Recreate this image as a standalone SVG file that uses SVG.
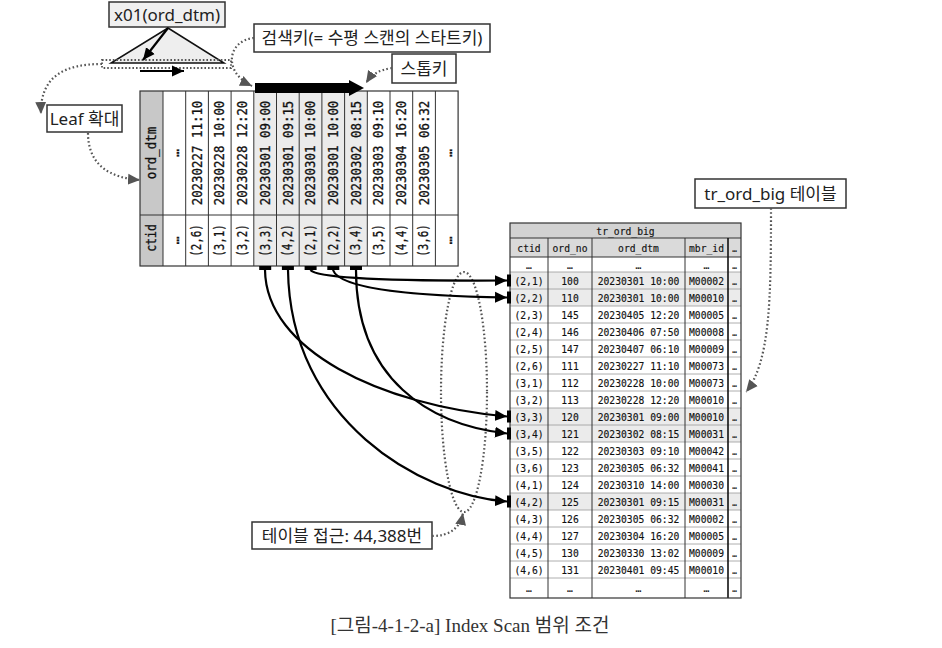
<svg xmlns="http://www.w3.org/2000/svg" width="942" height="648" viewBox="0 0 942 648">
<style>
.lbl{font-family:"Noto Sans","Noto Sans CJK KR",sans-serif;font-size:17px;fill:#222}
.box{fill:#fff;stroke:#333;stroke-width:1.5}
.m{font-family:"DejaVu Sans Mono","Liberation Mono",monospace;font-size:13.5px;fill:#111;stroke:#111;stroke-width:0.3}
.t{font-family:"DejaVu Sans Mono","Liberation Mono",monospace;font-size:11px;fill:#111;text-anchor:middle;dominant-baseline:central;stroke:#111;stroke-width:0.15}
.dot{fill:none;stroke:#555;stroke-width:2.2;stroke-dasharray:1.6 2.4}
.ar{fill:none;stroke:#000;stroke-width:2.2}
.cl{stroke:#333;stroke-width:1}
.rl{stroke:#999;stroke-width:0.8}
.cap{font-family:"Liberation Serif","Noto Sans CJK KR",serif;font-size:19px;fill:#333}
</style>
<defs>
<marker id="ba" markerUnits="userSpaceOnUse" markerWidth="12" markerHeight="12" refX="11" refY="5" orient="auto" viewBox="0 0 11 10"><path d="M0,0 L11,5 L0,10 z" fill="#000"/></marker>
<marker id="ga" markerUnits="userSpaceOnUse" markerWidth="12" markerHeight="12" refX="11" refY="5" orient="auto" viewBox="0 0 11 10"><path d="M0,0 L11,5 L0,10 z" fill="#555"/></marker>
</defs>
<rect width="942" height="648" fill="#fff"/>

<g id="x01">
<rect x="109" y="2" width="116" height="25" fill="#f0f0f0" stroke="#333" stroke-width="1.5"/>
<text class="lbl" x="167" y="20.5" text-anchor="middle">x01(ord_dtm)</text>
<polygon points="168,28 111,63 224,63" fill="#eee" stroke="#111" stroke-width="1.5"/>
<rect x="102" y="60" width="129" height="8" fill="none" stroke="#555" stroke-width="1.8" stroke-dasharray="1.6 2"/>
<path class="ar" d="M168,28 L143,60" marker-end="url(#ba)"/>
<path class="ar" d="M140,71 L184,71" marker-end="url(#ba)"/>
</g>

<g id="leaf">
<rect class="box" x="47" y="105" width="75" height="27"/>
<text class="lbl" x="84.5" y="124.5" text-anchor="middle">Leaf 확대</text>
</g>

<g id="searchkey">
<rect class="box" x="254" y="24" width="236" height="28"/>
<text class="lbl" x="372" y="44" text-anchor="middle">검색키(= 수평 스캔의 스타트키)</text>
</g>

<g id="stopkey">
<rect class="box" x="392" y="54" width="64" height="29"/>
<text class="lbl" x="424" y="74.5" text-anchor="middle">스톱키</text>
</g>

<g id="index">
<rect x="140" y="91" width="23" height="175" fill="#c8c8c8"/>
<rect x="253.8" y="91" width="113.5" height="175" fill="#ebebeb"/>
<rect x="140" y="91" width="318.1" height="175" fill="none" stroke="#333" stroke-width="1.2"/>
<line class="cl" x1="140" y1="215" x2="458.1" y2="215"/>
<g class="cl">
<line x1="163" y1="91" x2="163" y2="266"/>
<line x1="185.7" y1="91" x2="185.7" y2="266"/>
<line x1="208.4" y1="91" x2="208.4" y2="266"/>
<line x1="231.1" y1="91" x2="231.1" y2="266"/>
<line x1="253.8" y1="91" x2="253.8" y2="266"/>
<line x1="276.5" y1="91" x2="276.5" y2="266"/>
<line x1="299.2" y1="91" x2="299.2" y2="266"/>
<line x1="321.9" y1="91" x2="321.9" y2="266"/>
<line x1="344.6" y1="91" x2="344.6" y2="266"/>
<line x1="367.3" y1="91" x2="367.3" y2="266"/>
<line x1="390" y1="91" x2="390" y2="266"/>
<line x1="412.7" y1="91" x2="412.7" y2="266"/>
<line x1="435.4" y1="91" x2="435.4" y2="266"/>
</g>
<g class="m" text-anchor="middle" dominant-baseline="central">
<text transform="translate(151.5,153) rotate(-90) scale(0.92,1)">ord_dtm</text>
<text transform="translate(151.5,238) rotate(-90) scale(0.85,1)">ctid</text>
<text transform="translate(174.35,153) rotate(-90)">…</text>
<text transform="translate(174.35,240.5) rotate(-90)">…</text>
<text transform="translate(446.75,153) rotate(-90)">…</text>
<text transform="translate(446.75,240.5) rotate(-90)">…</text>
</g>
<g class="m" text-anchor="middle" dominant-baseline="central">
<text transform="translate(197.05,153) rotate(-90) scale(0.92,1)">20230227 11:10</text>
<text transform="translate(219.75,153) rotate(-90) scale(0.92,1)">20230228 10:00</text>
<text transform="translate(242.45,153) rotate(-90) scale(0.92,1)">20230228 12:20</text>
<text transform="translate(265.15,153) rotate(-90) scale(0.92,1)">20230301 09:00</text>
<text transform="translate(287.85,153) rotate(-90) scale(0.92,1)">20230301 09:15</text>
<text transform="translate(310.55,153) rotate(-90) scale(0.92,1)">20230301 10:00</text>
<text transform="translate(333.25,153) rotate(-90) scale(0.92,1)">20230301 10:00</text>
<text transform="translate(355.95,153) rotate(-90) scale(0.92,1)">20230302 08:15</text>
<text transform="translate(378.65,153) rotate(-90) scale(0.92,1)">20230303 09:10</text>
<text transform="translate(401.35,153) rotate(-90) scale(0.92,1)">20230304 16:20</text>
<text transform="translate(424.05,153) rotate(-90) scale(0.92,1)">20230305 06:32</text>
<text transform="translate(197.05,240.5) rotate(-90) scale(0.8,1)">(2,6)</text>
<text transform="translate(219.75,240.5) rotate(-90) scale(0.8,1)">(3,1)</text>
<text transform="translate(242.45,240.5) rotate(-90) scale(0.8,1)">(3,2)</text>
<text transform="translate(265.15,240.5) rotate(-90) scale(0.8,1)">(3,3)</text>
<text transform="translate(287.85,240.5) rotate(-90) scale(0.8,1)">(4,2)</text>
<text transform="translate(310.55,240.5) rotate(-90) scale(0.8,1)">(2,1)</text>
<text transform="translate(333.25,240.5) rotate(-90) scale(0.8,1)">(2,2)</text>
<text transform="translate(355.95,240.5) rotate(-90) scale(0.8,1)">(3,4)</text>
<text transform="translate(378.65,240.5) rotate(-90) scale(0.8,1)">(3,5)</text>
<text transform="translate(401.35,240.5) rotate(-90) scale(0.8,1)">(4,4)</text>
<text transform="translate(424.05,240.5) rotate(-90) scale(0.8,1)">(3,6)</text>
</g>
<g fill="#000">
<rect x="259.2" y="266" width="12" height="4"/>
<rect x="281.9" y="266" width="12" height="4"/>
<rect x="304.6" y="266" width="12" height="4"/>
<rect x="327.3" y="266" width="12" height="4"/>
<rect x="350" y="266" width="12" height="4"/>
</g>
</g>

<g id="scanbar">
<polygon points="255,83 349,83 349,80 364,88 349,96 349,93 255,93" fill="#000"/>
</g>

<g id="tr_ord_big">
<rect x="510" y="223" width="231" height="15" fill="#d2d2d2"/>
<rect x="510" y="238" width="231" height="19" fill="#dadada"/>
<g fill="#ebebeb">
<rect x="510" y="272" width="231" height="34"/>
<rect x="510" y="408" width="231" height="34"/>
<rect x="510" y="493" width="231" height="17"/>
</g>
<g class="rl">
<line x1="510" y1="272" x2="741" y2="272"/>
<line x1="510" y1="289" x2="741" y2="289"/>
<line x1="510" y1="306" x2="741" y2="306"/>
<line x1="510" y1="323" x2="741" y2="323"/>
<line x1="510" y1="340" x2="741" y2="340"/>
<line x1="510" y1="357" x2="741" y2="357"/>
<line x1="510" y1="374" x2="741" y2="374"/>
<line x1="510" y1="391" x2="741" y2="391"/>
<line x1="510" y1="408" x2="741" y2="408"/>
<line x1="510" y1="425" x2="741" y2="425"/>
<line x1="510" y1="442" x2="741" y2="442"/>
<line x1="510" y1="459" x2="741" y2="459"/>
<line x1="510" y1="476" x2="741" y2="476"/>
<line x1="510" y1="493" x2="741" y2="493"/>
<line x1="510" y1="510" x2="741" y2="510"/>
<line x1="510" y1="527" x2="741" y2="527"/>
<line x1="510" y1="544" x2="741" y2="544"/>
<line x1="510" y1="561" x2="741" y2="561"/>
<line x1="510" y1="578" x2="741" y2="578"/>
</g>
<line class="cl" x1="510" y1="238" x2="741" y2="238"/>
<line class="cl" x1="510" y1="257" x2="741" y2="257"/>
<g class="cl">
<line x1="548" y1="238" x2="548" y2="598"/>
<line x1="592" y1="238" x2="592" y2="598"/>
<line x1="685" y1="238" x2="685" y2="598"/>
</g>
<line x1="728" y1="238" x2="728" y2="598" stroke="#111" stroke-width="1.6"/>
<rect x="510" y="223" width="231" height="375" fill="none" stroke="#333" stroke-width="1.2"/>
<g class="t" transform="translate(625.5,0) scale(0.88,1)"><text x="0" y="230.5">tr_ord_big</text></g>
<g class="t" transform="translate(529,0) scale(0.88,1)">
<text y="247.5">ctid</text><text y="264.5">…</text>
<text y="280.5">(2,1)</text><text y="297.5">(2,2)</text><text y="314.5">(2,3)</text><text y="331.5">(2,4)</text><text y="348.5">(2,5)</text><text y="365.5">(2,6)</text>
<text y="382.5">(3,1)</text><text y="399.5">(3,2)</text><text y="416.5">(3,3)</text><text y="433.5">(3,4)</text><text y="450.5">(3,5)</text><text y="467.5">(3,6)</text>
<text y="484.5">(4,1)</text><text y="501.5">(4,2)</text><text y="518.5">(4,3)</text><text y="535.5">(4,4)</text><text y="552.5">(4,5)</text><text y="569.5">(4,6)</text>
<text y="588">…</text>
</g>
<g class="t" transform="translate(570,0) scale(0.88,1)">
<text y="247.5">ord_no</text><text y="264.5">…</text>
<text y="280.5">100</text><text y="297.5">110</text><text y="314.5">145</text><text y="331.5">146</text><text y="348.5">147</text><text y="365.5">111</text>
<text y="382.5">112</text><text y="399.5">113</text><text y="416.5">120</text><text y="433.5">121</text><text y="450.5">122</text><text y="467.5">123</text>
<text y="484.5">124</text><text y="501.5">125</text><text y="518.5">126</text><text y="535.5">127</text><text y="552.5">130</text><text y="569.5">131</text>
<text y="588">…</text>
</g>
<g class="t" transform="translate(638.5,0) scale(0.88,1)">
<text y="247.5">ord_dtm</text><text y="264.5">…</text>
<text y="280.5">20230301 10:00</text><text y="297.5">20230301 10:00</text><text y="314.5">20230405 12:20</text><text y="331.5">20230406 07:50</text><text y="348.5">20230407 06:10</text><text y="365.5">20230227 11:10</text>
<text y="382.5">20230228 10:00</text><text y="399.5">20230228 12:20</text><text y="416.5">20230301 09:00</text><text y="433.5">20230302 08:15</text><text y="450.5">20230303 09:10</text><text y="467.5">20230305 06:32</text>
<text y="484.5">20230310 14:00</text><text y="501.5">20230301 09:15</text><text y="518.5">20230305 06:32</text><text y="535.5">20230304 16:20</text><text y="552.5">20230330 13:02</text><text y="569.5">20230401 09:45</text>
<text y="588">…</text>
</g>
<g class="t" transform="translate(706.5,0) scale(0.88,1)">
<text y="247.5">mbr_id</text><text y="264.5">…</text>
<text y="280.5">M00002</text><text y="297.5">M00010</text><text y="314.5">M00005</text><text y="331.5">M00008</text><text y="348.5">M00009</text><text y="365.5">M00073</text>
<text y="382.5">M00073</text><text y="399.5">M00010</text><text y="416.5">M00010</text><text y="433.5">M00031</text><text y="450.5">M00042</text><text y="467.5">M00041</text>
<text y="484.5">M00030</text><text y="501.5">M00031</text><text y="518.5">M00002</text><text y="535.5">M00005</text><text y="552.5">M00009</text><text y="569.5">M00010</text>
<text y="588">…</text>
</g>
<g class="t" transform="translate(734.5,0) scale(0.7,1)">
<text y="247.5">…</text><text y="264.5">…</text>
<text y="280.5">…</text><text y="297.5">…</text><text y="314.5">…</text><text y="331.5">…</text><text y="348.5">…</text><text y="365.5">…</text>
<text y="382.5">…</text><text y="399.5">…</text><text y="416.5">…</text><text y="433.5">…</text><text y="450.5">…</text><text y="467.5">…</text>
<text y="484.5">…</text><text y="501.5">…</text><text y="518.5">…</text><text y="535.5">…</text><text y="552.5">…</text><text y="569.5">…</text>
<text y="588">…</text>
</g>
<g fill="#000">
<rect x="507" y="274.5" width="4" height="12"/>
<rect x="507" y="291.5" width="4" height="12"/>
<rect x="507" y="410.5" width="4" height="12"/>
<rect x="507" y="427.5" width="4" height="12"/>
<rect x="507" y="495.5" width="4" height="12"/>
</g>
</g>

<g id="access">
<ellipse cx="464" cy="392" rx="23" ry="120" class="dot"/>
<rect class="box" x="252" y="522" width="180" height="27"/>
<text class="lbl" x="342" y="541.5" text-anchor="middle">테이블 접근: 44,388번</text>
</g>

<g id="tablelabel">
<rect class="box" x="695" y="179" width="151" height="29"/>
<text class="lbl" x="770.5" y="199.5" text-anchor="middle">tr_ord_big 테이블</text>
</g>

<g id="connectors">
<path class="dot" d="M102,64 C65,64 40,76 41,114" marker-end="url(#ga)"/>
<path class="dot" d="M88,133 C88,165 110,178 140,180" marker-end="url(#ga)"/>
<path class="dot" d="M254,38 C228,40 222,72 252,86" marker-end="url(#ga)"/>
<path class="dot" d="M392,68 C379,70 372,74 366,83" marker-end="url(#ga)"/>
<path class="dot" d="M771,208 C771,300 770,362 746,392" marker-end="url(#ga)"/>
<path class="dot" d="M432,536 C450,536 460,528 463,513" marker-end="url(#ga)"/>
<path class="ar" d="M310.5,270 C318,280 420,281 507,280.5" marker-end="url(#ba)"/>
<path class="ar" d="M333,270 C340,290 420,296 507,297.5" marker-end="url(#ba)"/>
<path class="ar" d="M265,270 C266,350 380,405 507,416.5" marker-end="url(#ba)"/>
<path class="ar" d="M356,270 C356,380 430,425 507,433.5" marker-end="url(#ba)"/>
<path class="ar" d="M288,270 C290,420 420,495 507,501.5" marker-end="url(#ba)"/>
</g>

<text class="cap" x="470" y="632" text-anchor="middle">[그림-4-1-2-a] Index Scan 범위 조건</text>
</svg>
